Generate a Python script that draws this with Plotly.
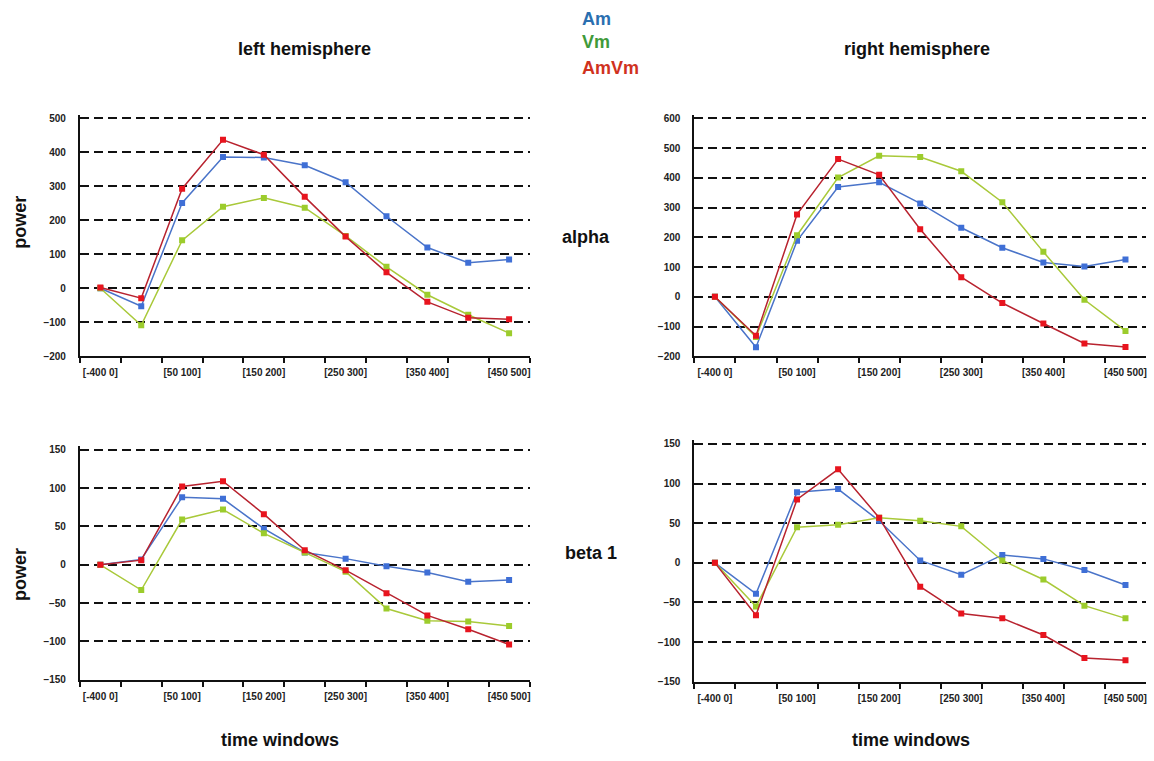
import plotly.graph_objects as go
from plotly.subplots import make_subplots

# Time windows (ms) on the x axis
categories = ["[-400 0]", "[0 50]", "[50 100]", "[100 150]", "[150 200]", "[200 250]",
              "[250 300]", "[300 350]", "[350 400]", "[400 450]", "[450 500]"]
tick_labels = [c if i % 2 == 0 else "" for i, c in enumerate(categories)]

series_names = ["Am", "Vm", "AmVm"]

# alpha band, left hemisphere
alpha_left_am = [0, -53, 251, 386, 385, 362, 312, 212, 120, 75, 85]
alpha_left_vm = [0, -109, 141, 240, 266, 237, 154, 63, -19, -78, -132]
alpha_left_amvm = [2, -29, 293, 437, 393, 269, 152, 47, -40, -87, -91]

# alpha band, right hemisphere
alpha_right_am = [0, -170, 188, 369, 385, 314, 232, 165, 115, 102, 125]
alpha_right_vm = [0, -135, 207, 401, 474, 470, 422, 318, 151, -10, -115]
alpha_right_amvm = [0, -131, 277, 463, 410, 227, 66, -21, -90, -157, -169]

# beta 1 band, left hemisphere
beta_left_am = [0, 7, 88, 86, 47, 16, 8, -2, -10, -22, -20]
beta_left_vm = [0, -33, 59, 72, 41, 16, -9, -57, -73, -74, -80]
beta_left_amvm = [0, 6, 102, 109, 66, 19, -7, -37, -66, -84, -104]

# beta 1 band, right hemisphere
beta_right_am = [0, -39, 89, 93, 53, 3, -15, 10, 5, -9, -28]
beta_right_vm = [0, -55, 45, 48, 57, 53, 46, 3, -21, -54, -70]
beta_right_amvm = [0, -66, 80, 118, 57, -30, -64, -70, -91, -120, -123]

line_colors = {"Am": "#4a74c9", "Vm": "#a9c93a", "AmVm": "#b8232f"}
marker_colors = {"Am": "#3f6fd6", "Vm": "#9ccc2c", "AmVm": "#e8141e"}
label_colors = {"Am": "#2a6fb0", "Vm": "#3f9a3a", "AmVm": "#d0321e"}

panels = [
    (1, 1, [alpha_left_am, alpha_left_vm, alpha_left_amvm], [-200, 500], 100),
    (1, 2, [alpha_right_am, alpha_right_vm, alpha_right_amvm], [-200, 600], 100),
    (2, 1, [beta_left_am, beta_left_vm, beta_left_amvm], [-150, 150], 50),
    (2, 2, [beta_right_am, beta_right_vm, beta_right_amvm], [-150, 150], 50),
]

fig = make_subplots(rows=2, cols=2)

TICK_FONT = dict(family="Liberation Sans Narrow, Liberation Sans, Arial", size=10,
                 color="#222", weight="bold")

for row, col, data, yr, dy in panels:
    for name, vals in zip(series_names, data):
        fig.add_trace(
            go.Scatter(
                x=categories, y=vals, mode="lines+markers", name=name,
                line=dict(color=line_colors[name], width=1.5),
                marker=dict(symbol="square", size=6, color=marker_colors[name]),
                showlegend=False,
            ),
            row=row, col=col,
        )
    # pad the top a little so the top dashed gridline is still drawn
    pad = (yr[1] - yr[0]) * 0.015
    fig.update_yaxes(
        range=[yr[0], yr[1] + pad], dtick=dy, tick0=0, showgrid=True,
        gridcolor="#111", gridwidth=2, griddash="9px,5px", zeroline=False,
        showline=True, linecolor="#111", linewidth=2, ticks="",
        ticklabelstandoff=10, tickfont=TICK_FONT,
        row=row, col=col,
    )
    fig.update_xaxes(
        type="category", range=[-0.5, len(categories) - 0.5],
        tickmode="array", tickvals=categories, ticktext=tick_labels,
        tickson="boundaries", ticks="outside", ticklen=5, tickwidth=1.5,
        tickcolor="#111", showgrid=False, zeroline=False, showline=True,
        linecolor="#111", linewidth=2, tickangle=0, tickfont=TICK_FONT,
        ticklabelstandoff=6,
        row=row, col=col,
    )

W, H = 1154, 761

def xd(a, b):
    return [a / W, b / W]

def yd(top, bottom):
    return [1 - bottom / H, 1 - top / H]

fig.update_layout(
    xaxis=dict(domain=xd(80, 530)), yaxis=dict(domain=yd(114, 358)),
    xaxis2=dict(domain=xd(695, 1147)), yaxis2=dict(domain=yd(114, 358)),
    xaxis3=dict(domain=xd(80, 530)), yaxis3=dict(domain=yd(449, 685)),
    xaxis4=dict(domain=xd(695, 1147)), yaxis4=dict(domain=yd(443, 687)),
)

TITLE_FONT = dict(family="Liberation Sans Narrow, Liberation Sans, Arial", size=18,
                  color="#111", weight="bold")

texts = [
    ("left hemisphere", 305, 47, 0),
    ("right hemisphere", 918, 47, 0),
    ("alpha", 587, 238, 0),
    ("beta 1", 592, 557, 0),
    ("time windows", 280, 746, 0),
    ("time windows", 912, 746, 0),
    ("power", 20, 222, -90),
    ("power", 20, 578, -90),
]
for txt, x, y, ang in texts:
    fig.add_annotation(
        text=txt, x=x / W, y=1 - y / H, xref="paper", yref="paper",
        showarrow=False, textangle=ang, font=TITLE_FONT,
        xanchor="center", yanchor="middle",
    )

legend_pos = [("Am", 597, 17), ("Vm", 597, 40), ("AmVm", 611, 67)]
for name, x, y in legend_pos:
    fig.add_annotation(
        text=name, x=x / W, y=1 - y / H, xref="paper", yref="paper",
        showarrow=False,
        font=dict(family="Liberation Sans Narrow, Liberation Sans, Arial", size=18,
                  color=label_colors[name], weight="bold"),
        xanchor="center", yanchor="middle",
    )

fig.update_layout(
    width=W, height=H, margin=dict(l=0, r=0, t=0, b=0),
    paper_bgcolor="white", plot_bgcolor="white",
)

fig.write_html("out.html")
